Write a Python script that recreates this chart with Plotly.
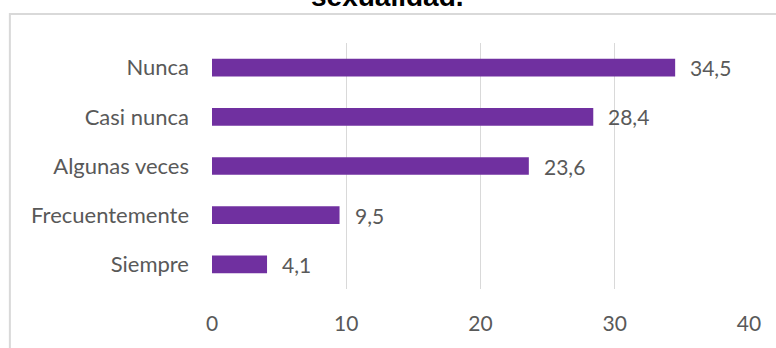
import plotly.graph_objects as go

# Frequency categories (top to bottom) and their percentages
categories = ["Nunca", "Casi nunca", "Algunas veces", "Frecuentemente", "Siempre"]
values = [34.5, 28.4, 23.6, 9.5, 4.1]
x_ticks = [0, 10, 20, 30, 40]
title_text = "sexualidad."

W, H = 776, 348
ML, MR, MT, MB = 211.5, 26.5, 43, 59
plot_w = W - ML - MR
plot_h = H - MT - MB

def px_to_paper_x(px):
    return (px - ML) / plot_w

def px_to_paper_y(py):
    return (H - MB - py) / plot_h

purple = "#7030A0"
grey_text = "#595959"
grid = "#D9D9D9"
font_family = "Lato, Calibri, Carlito, sans-serif"

fig = go.Figure(
    go.Bar(
        y=categories,
        x=values,
        orientation="h",
        marker=dict(color=purple, line=dict(width=0)),
        width=0.36,
        hoverinfo="skip",
    )
)

# value labels next to each bar
for cat, v in zip(categories, values):
    fig.add_annotation(
        x=v, y=cat, xref="x", yref="y",
        text=f"{v:.1f}".replace(".", ","),
        showarrow=False, xanchor="left", yanchor="middle",
        xshift=13,
        font=dict(family=font_family, size=21, color=grey_text),
    )

# chart title, partly above the visible area
fig.add_annotation(
    x=px_to_paper_x(387), y=px_to_paper_y(-3), xref="paper", yref="paper",
    text=f"<b>{title_text}</b>", showarrow=False,
    xanchor="center", yanchor="middle",
    font=dict(family="Liberation Sans, Arial, sans-serif", size=28, color="#000000"),
)

# outer chart frame
fig.add_shape(
    type="rect", xref="paper", yref="paper",
    x0=px_to_paper_x(9), x1=px_to_paper_x(W + 20),
    y0=px_to_paper_y(H + 20), y1=px_to_paper_y(14),
    line=dict(color=grid, width=2), fillcolor="rgba(0,0,0,0)", layer="below",
)

fig.update_layout(
    width=W, height=H,
    margin=dict(l=ML, r=MR, t=MT, b=MB, pad=0),
    paper_bgcolor="white", plot_bgcolor="white",
    showlegend=False,
    bargap=0.64,
    xaxis=dict(
        range=[0, 40], tickvals=x_ticks, ticktext=[str(t) for t in x_ticks],
        showgrid=True, gridcolor=grid, gridwidth=1,
        zeroline=False, showline=False, ticks="",
        tickfont=dict(family=font_family, size=21, color=grey_text),
        ticklabelstandoff=20,
    ),
    yaxis=dict(
        categoryorder="array", categoryarray=categories[::-1],
        showgrid=False, zeroline=False, showline=False, ticks="",
        tickfont=dict(family=font_family, size=22, color=grey_text),
        ticklabelstandoff=22,
    ),
)

fig.write_html("out.html")
